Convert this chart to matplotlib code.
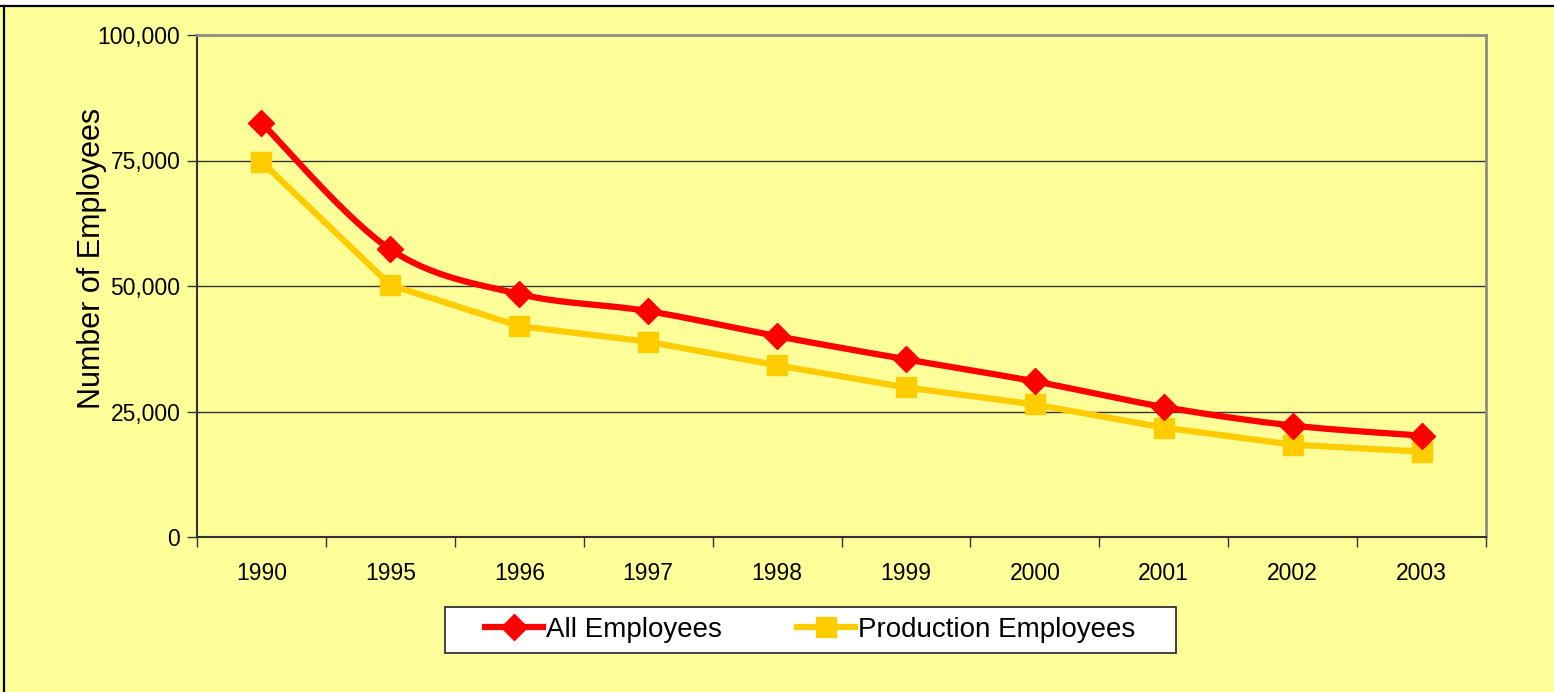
import matplotlib
matplotlib.use("Agg")
import matplotlib.pyplot as plt
import numpy as np
from matplotlib.lines import Line2D
from matplotlib.patches import Rectangle
from matplotlib.ticker import FixedLocator, FuncFormatter

years = ["1990", "1995", "1996", "1997", "1998", "1999", "2000", "2001", "2002", "2003"]
all_employees = [82500, 57300, 48400, 45000, 40000, 35400, 31000, 25900, 22200, 20200]
production_employees = [74800, 50200, 42000, 38900, 34200, 29800, 26400, 21800, 18400, 17000]
y_ticks = [0, 25000, 50000, 75000, 100000]

plt.rcParams['font.family'] = ['Liberation Sans', 'DejaVu Sans']

BG = '#FFFF99'
RED = '#FF0000'
GOLD = '#FFCC00'
W, H = 1554, 692

fig = plt.figure(figsize=(W / 100, H / 100), dpi=100)
fig.patch.set_facecolor(BG)

# white strip at top and black frame lines (chart border)
fig.add_artist(Rectangle((0, 1 - 5 / H), 1, 5 / H, transform=fig.transFigure,
                         facecolor='white', edgecolor='none', zorder=0))
fig.add_artist(Line2D([0, 1], [1 - 6 / H, 1 - 6 / H], transform=fig.transFigure,
                      color='black', lw=1.6))
fig.add_artist(Line2D([4 / W, 4 / W], [0, 1 - 6 / H], transform=fig.transFigure,
                      color='black', lw=1.6))

ax = fig.add_axes([197 / W, 1 - 537 / H, (1486 - 197) / W, (537 - 35) / H])
ax.set_facecolor(BG)

x = np.arange(len(years))


def smooth(xs, ys, n=30):
    xs = np.asarray(xs, float)
    ys = np.asarray(ys, float)
    px = np.concatenate([[xs[0]], xs, [xs[-1]]])
    py = np.concatenate([[ys[0]], ys, [ys[-1]]])
    outx, outy = [], []
    t = np.linspace(0, 1, n)
    for i in range(1, len(px) - 2):
        p0 = np.array([px[i], py[i]])
        p3 = np.array([px[i + 1], py[i + 1]])
        p1 = p0 + (np.array([px[i + 1], py[i + 1]]) - np.array([px[i - 1], py[i - 1]])) / 6
        p2 = p3 - (np.array([px[i + 2], py[i + 2]]) - np.array([px[i], py[i]])) / 6
        b = ((1 - t) ** 3)[:, None] * p0 + (3 * (1 - t) ** 2 * t)[:, None] * p1 \
            + (3 * (1 - t) * t ** 2)[:, None] * p2 + (t ** 3)[:, None] * p3
        outx.extend(b[:, 0])
        outy.extend(b[:, 1])
    return np.array(outx), np.array(outy)


# gridlines
for v in y_ticks[1:-1]:
    ax.axhline(v, color='#333333', lw=1.0, zorder=1)

sx, sy = smooth(x, all_employees)
ax.plot(sx, sy, color=RED, lw=4.5, zorder=3, solid_capstyle='round')
ax.plot(x, all_employees, linestyle='none', marker='D', markersize=13,
        color=RED, markeredgecolor=RED, zorder=4)

ax.plot(x, production_employees, color=GOLD, lw=4.5, zorder=2,
        marker='s', markersize=14.5, markeredgecolor=GOLD, markerfacecolor=GOLD)

ax.set_xlim(-0.5, len(years) - 0.5)
ax.set_ylim(0, 100000)

ax.xaxis.set_major_locator(FixedLocator(np.arange(-0.5, len(years), 1.0)))
ax.xaxis.set_minor_locator(FixedLocator(x))
ax.set_xticklabels([])
ax.set_xticklabels(years, minor=True)
ax.tick_params(axis='x', which='major', length=7, width=1, color='#333333', direction='out')
ax.tick_params(axis='x', which='minor', length=0, labelsize=16.5, pad=18)

ax.set_yticks(y_ticks)
ax.yaxis.set_major_formatter(FuncFormatter(lambda v, p: f"{int(v):,}"))
ax.tick_params(axis='y', length=7, width=1, color='#333333', labelsize=16.5, pad=5)

for s in ['top', 'right']:
    ax.spines[s].set_color('#8C8C8C')
    ax.spines[s].set_linewidth(2)
for s in ['left', 'bottom']:
    ax.spines[s].set_color('#333333')
    ax.spines[s].set_linewidth(1.5)

fig.text(92 / W, 1 - 258 / H, "Number of Employees", rotation=90,
         ha='center', va='center', fontsize=22)

# legend box
fig.add_artist(Rectangle((445 / W, 1 - 653 / H), (1176 - 445) / W, (653 - 607) / H,
                         transform=fig.transFigure, facecolor='white',
                         edgecolor='#333333', lw=1.3, zorder=5))
handles = [
    Line2D([], [], color=RED, lw=4.5, marker='D', markersize=13),
    Line2D([], [], color=GOLD, lw=4.5, marker='s', markersize=14.5),
]
leg = fig.legend(handles, ["All Employees", "Production Employees"],
                 loc='center', bbox_to_anchor=(810 / W, 1 - 630 / H),
                 ncol=2, fontsize=20, frameon=False,
                 handlelength=2.1, handletextpad=0.1, columnspacing=2.7,
                 borderpad=0.2)
leg.set_zorder(6)

fig.savefig('out.png', dpi=100, facecolor=BG)
